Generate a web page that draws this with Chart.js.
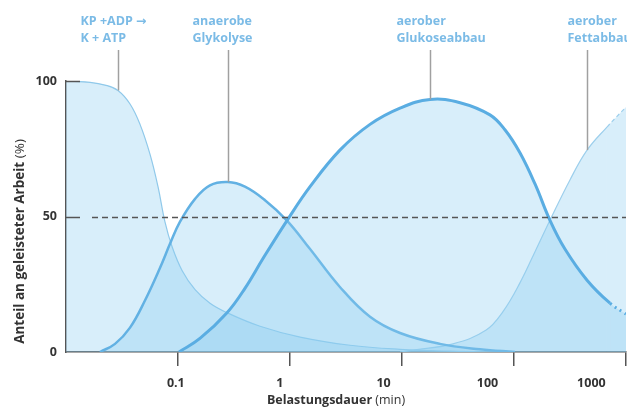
<!DOCTYPE html>
<html>
<head>
<meta charset="utf-8">
<script src="https://cdn.jsdelivr.net/npm/chart.js@4.4.1/dist/chart.umd.min.js"></script>
<style>
  html, body { margin: 0; padding: 0; background: #fff; }
</style>
</head>
<body>
<canvas id="chart" width="627" height="407"></canvas>
<script>
  // Belastungsdauer in min, Anteil an geleisteter Arbeit in %
  var kpMin  = [0.01, 0.0164, 0.0223, 0.0291, 0.0373, 0.0458, 0.0562, 0.0663, 0.0765, 0.0883, 0.109, 0.142, 0.193, 0.274, 0.54, 1.23, 3.43, 9.6, 26.8, 75];
  var kpPct  = [100, 99.5, 98.5, 96.5, 91.5, 84, 73, 61, 48, 39, 30, 23, 18, 14.5, 9.5, 5.5, 2.5, 1, 0.3, 0];

  var glyMin = [0.0201, 0.0274, 0.0373, 0.0507, 0.069, 0.085, 0.104, 0.142, 0.193, 0.279, 0.396, 0.598, 0.94, 1.51, 2.79, 5.18, 9.6, 21.8, 49.7, 102];
  var glyPct = [0, 3, 9, 19, 31, 40, 48, 56.5, 61.5, 62.7, 61, 56, 48.5, 38, 24, 13, 7, 3, 1, 0];

  var gluMin = [0.102, 0.157, 0.274, 0.396, 0.574, 0.94, 1.51, 2.79, 5.18, 9.6, 17.8, 33, 61, 83, 113, 154, 210, 285, 449, 720, 1000];
  var gluPct = [0, 5, 14.5, 23.5, 34.5, 48.5, 61, 74.5, 84, 90, 93.2, 92, 87.5, 82, 73.5, 62, 48.5, 38, 26.5, 18, 14];

  var fetMin = [9.6, 13, 28.5, 56, 80, 113, 154, 210, 316, 449, 676, 1000];
  var fetPct = [0, 0.8, 3, 8, 15, 25.5, 37, 48.7, 63.5, 74.5, 83, 90.4];

  var xTicks = [0.1, 1, 10, 100, 1000];
  var yTicks = [0, 50, 100];

  var labelLines = [['KP +ADP \u2192', 'K + ATP'], ['anaerobe', 'Glykolyse'], ['aerober', 'Glukoseabbau'], ['aerober', 'Fettabbau']];
  var labelAtMin = [0.0291, 0.279, 17.8, 449];
  var labelAtPct = [96.5, 62.7, 93.2, 74.5];

  function pts(xs, ys) {
    return xs.map(function (x, i) { return { x: x, y: ys[i] }; });
  }

  var fill = 'rgba(140,205,240,0.34)';
  var font = '"Open Sans", "DejaVu Sans", sans-serif';

  var extras = {
    id: 'extras',
    afterDatasetsDraw: function (chart) {
      var c = chart.ctx, a = chart.chartArea;
      var xs = chart.scales.x, ys = chart.scales.y;
      c.save();
      // short inner ticks on the y axis
      c.strokeStyle = '#555';
      c.lineWidth = 1.5;
      [50, 100].forEach(function (v) {
        var py = Math.round(ys.getPixelForValue(v)) + 0.5;
        c.beginPath(); c.moveTo(a.left, py); c.lineTo(a.left + 14, py); c.stroke();
      });
      // dashed 50 % line
      var y50 = Math.round(ys.getPixelForValue(50)) + 0.5;
      c.setLineDash([6, 4]);
      c.beginPath(); c.moveTo(a.left + 26, y50); c.lineTo(a.right, y50); c.stroke();
      c.setLineDash([]);

      // leader lines and labels
      var offs = [-38, -36, -34, -20];
      c.font = 'bold 12.5px ' + font;
      c.textBaseline = 'alphabetic';
      c.textAlign = 'left';
      labelLines.forEach(function (lines, i) {
        var px = Math.round(xs.getPixelForValue(labelAtMin[i])) + 0.5;
        var py = ys.getPixelForValue(labelAtPct[i]);
        c.strokeStyle = '#a0a0a0';
        c.lineWidth = 1.5;
        c.beginPath(); c.moveTo(px, 50); c.lineTo(px, py); c.stroke();
        c.fillStyle = '#7bbbe6';
        lines.forEach(function (t, j) {
          c.fillText(t, px + offs[i], 25 + j * 17);
        });
      });

      // axis titles, bold part + normal unit
      function mixed(parts, size, cx, cy) {
        var w = 0;
        parts.forEach(function (p) { c.font = p[1] + ' ' + size + 'px ' + font; w += c.measureText(p[0]).width; });
        var x = cx - w / 2;
        c.textAlign = 'left';
        c.textBaseline = 'middle';
        c.fillStyle = '#333';
        parts.forEach(function (p) {
          c.font = p[1] + ' ' + size + 'px ' + font;
          c.fillText(p[0], x, cy);
          x += c.measureText(p[0]).width;
        });
      }
      mixed([['Belastungsdauer', 'bold'], [' (min)', 'normal']], 12.5, (a.left + a.right) / 2 - 10, 400);
      c.save();
      c.translate(20, (a.top + a.bottom) / 2 + 25);
      c.rotate(-Math.PI / 2);
      mixed([['Anteil an geleisteter Arbeit', 'bold'], [' (%)', 'normal']], 13.5, 0, 0);
      c.restore();
      c.restore();
    }
  };

  new Chart(document.getElementById('chart'), {
    type: 'line',
    data: {
      datasets: [
        {
          label: 'aerober Glukoseabbau',
          data: pts(gluMin, gluPct),
          borderColor: '#5aade2', borderWidth: 3, backgroundColor: fill, fill: 'origin',
          segment: { borderDash: function (ctx) { return ctx.p0.parsed.x >= 700 ? [2, 4] : undefined; } }
        },
        {
          label: 'anaerobe Glykolyse',
          data: pts(glyMin, glyPct),
          borderColor: '#62b1e3', borderWidth: 2.5, backgroundColor: fill, fill: 'origin'
        },
        {
          label: 'KP + ADP -> K + ATP',
          data: pts(kpMin, kpPct),
          borderColor: '#90c9ea', borderWidth: 1.2, backgroundColor: fill, fill: 'origin'
        },
        {
          label: 'aerober Fettabbau',
          data: pts(fetMin, fetPct),
          borderColor: '#9dcfec', borderWidth: 1.2, backgroundColor: fill, fill: 'origin',
          segment: { borderDash: function (ctx) { return ctx.p0.parsed.x >= 600 ? [4, 3] : undefined; } }
        }
      ]
    },
    options: {
      responsive: false,
      devicePixelRatio: 1,
      animation: false,
      events: [],
      elements: { point: { radius: 0 }, line: { tension: 0.4 } },
      layout: { padding: { top: 81, right: 1, left: 0, bottom: 0 } },
      plugins: { legend: { display: false }, tooltip: { enabled: false } },
      scales: {
        x: {
          type: 'logarithmic', position: 'bottom', min: 0.01, max: 1000,
          afterBuildTicks: function (s) { s.ticks = xTicks.map(function (v) { return { value: v }; }); },
          afterFit: function (s) { s.height = 14; },
          grid: { drawOnChartArea: false, drawTicks: true, tickLength: 14, color: '#555', lineWidth: 1.5 },
          border: { display: true, color: '#555', width: 1.5 },
          ticks: { display: false }
        },
        x2: {
          type: 'logarithmic', position: 'bottom', min: 0.00877, max: 2154,
          afterBuildTicks: function (s) { s.ticks = xTicks.map(function (v) { return { value: v }; }); },
          afterFit: function (s) { s.height = 41; },
          grid: { display: false },
          border: { display: false },
          ticks: {
            padding: 2, color: '#333', maxRotation: 0, autoSkip: false,
            font: { family: font, size: 12.5, weight: 'bold' },
            callback: function (v) { return String(v); }
          }
        },
        y: {
          min: 0, max: 100,
          afterBuildTicks: function (s) { s.ticks = yTicks.map(function (v) { return { value: v }; }); },
          afterFit: function (s) { s.width = 66; },
          grid: { display: true, drawOnChartArea: false, drawTicks: false },
          border: { display: true, color: '#555', width: 1.5 },
          ticks: {
            padding: 9, color: '#333',
            font: { family: font, size: 12.5, weight: 'bold' }
          }
        }
      }
    },
    plugins: [extras]
  });
</script>
</body>
</html>
